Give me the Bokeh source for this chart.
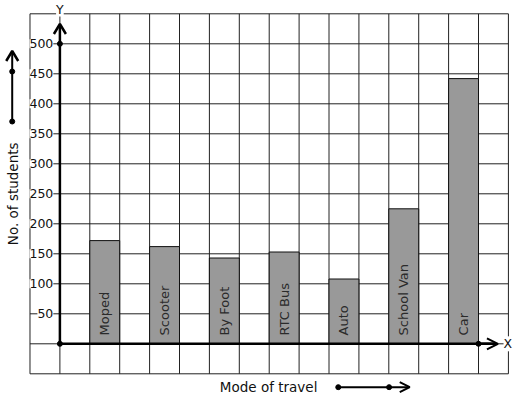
import numpy as np
from bokeh.plotting import figure
from bokeh.models import Range1d, Arrow, OpenHead, ColumnDataSource
from bokeh.core.properties import value
from bokeh.embed import file_html
from bokeh.resources import INLINE

# ---- data ----
modes = ["Moped", "Scooter", "By Foot", "RTC Bus", "Auto", "School Van", "Car"]
students = [172, 162, 143, 153, 108, 225, 442]
bar_left = [1, 3, 5, 7, 9, 11, 13]
y_ticks = [50, 100, 150, 200, 250, 300, 350, 400, 450, 500]
y_tick_labels = ["50", "100", "150", "200", "250", "300", "350", "400", "450", "500"]
x_title = "Mode of travel"
y_title = "No. of students"

FONT = value("DejaVu Sans")
PX_X = 1 / 29.9   # data units per pixel (x)
PX_Y = 1 / 0.6    # data units per pixel (y)

p = figure(width=517, height=399, output_backend="svg", toolbar_location=None,
           x_range=Range1d(-1.9866, 15.304), y_range=Range1d(-92.83, 572.17),
           min_border=0, min_border_left=0, min_border_right=0,
           min_border_top=0, min_border_bottom=0)
p.axis.visible = False
p.grid.visible = False
p.outline_line_color = None
p.background_fill_color = "white"
p.border_fill_color = "white"

# grid (16 x 12 cells)
gx = np.arange(-1, 16)
gy = np.arange(-50, 551, 50)
p.segment(x0=gx, y0=[-50] * len(gx), x1=gx, y1=[550] * len(gx), line_color="#222222", line_width=1)
p.segment(x0=[-1] * len(gy), y0=gy, x1=[15] * len(gy), y1=gy, line_color="#222222", line_width=1)

# bars
src = ColumnDataSource(dict(left=bar_left, right=[b + 1 for b in bar_left],
                            top=students, bottom=[0] * len(students), name=modes,
                            cx=[b + 0.5 for b in bar_left], ty=[14] * len(students)))
p.quad(left="left", right="right", top="top", bottom="bottom", source=src,
       fill_color="#999999", line_color="#111111", line_width=1)
p.text(x="cx", y="ty", text="name", source=src, angle=np.pi / 2, text_align="left",
       text_baseline="middle", text_font=FONT, text_font_size="13px", text_color="#2a2a2a")


def up_head(x, y, w=6, h=10):
    return [x - w * PX_X, x, x + w * PX_X], [y - h * PX_Y, y, y - h * PX_Y]


# axes
p.line([0, 0], [0, 530], line_color="black", line_width=2.5)
hx, hy = up_head(0, 533)
p.line(hx, hy, line_color="black", line_width=2.5)
p.line([0, 14.55], [0, 0], line_color="black", line_width=2.5)
p.add_layout(Arrow(end=OpenHead(size=11, line_width=2, line_color="black"),
                   x_start=14, y_start=0, x_end=14.65, y_end=0, line_width=2.5, line_color="black"))
p.scatter([0, 0, 14], [0, 500, 0], size=5, color="black")

# y tick labels with white background
p.text(x=[-0.22] * len(y_ticks), y=y_ticks, text=y_tick_labels, text_align="right",
       text_baseline="middle", text_font=FONT, text_font_size="12.5px", text_color="#111111",
       background_fill_color="white")

# axis letters
p.text(x=[0], y=[558], text=["Y"], text_align="center", text_baseline="middle",
       text_font=FONT, text_font_size="12.5px", text_color="#111111", background_fill_color="white")
p.text(x=[14.98], y=[0], text=["X"], text_align="center", text_baseline="middle",
       text_font=FONT, text_font_size="12.5px", text_color="#111111", background_fill_color="white")

# axis titles
p.text(x=[6.98], y=[-72], text=[x_title], text_align="center", text_baseline="middle",
       text_font=FONT, text_font_size="13.5px", text_color="#111111")
p.text(x=[-1.58], y=[250], text=[y_title], angle=np.pi / 2, text_align="center",
       text_baseline="middle", text_font=FONT, text_font_size="13.5px", text_color="#111111")

# direction arrows
p.add_layout(Arrow(end=OpenHead(size=10, line_width=2, line_color="black"),
                   x_start=9.31, y_start=-72.3, x_end=11.7, y_end=-72.3, line_width=2, line_color="black"))
p.scatter([9.31, 11.01], [-72.3, -72.3], size=5, color="black")
p.line([-1.595, -1.595], [370.5, 486], line_color="black", line_width=2)
hx, hy = up_head(-1.595, 488)
p.line(hx, hy, line_color="black", line_width=2.5)
p.scatter([-1.595, -1.595], [370.5, 453.8], size=5, color="black")

open("out.html", "w").write(file_html(p, INLINE))
